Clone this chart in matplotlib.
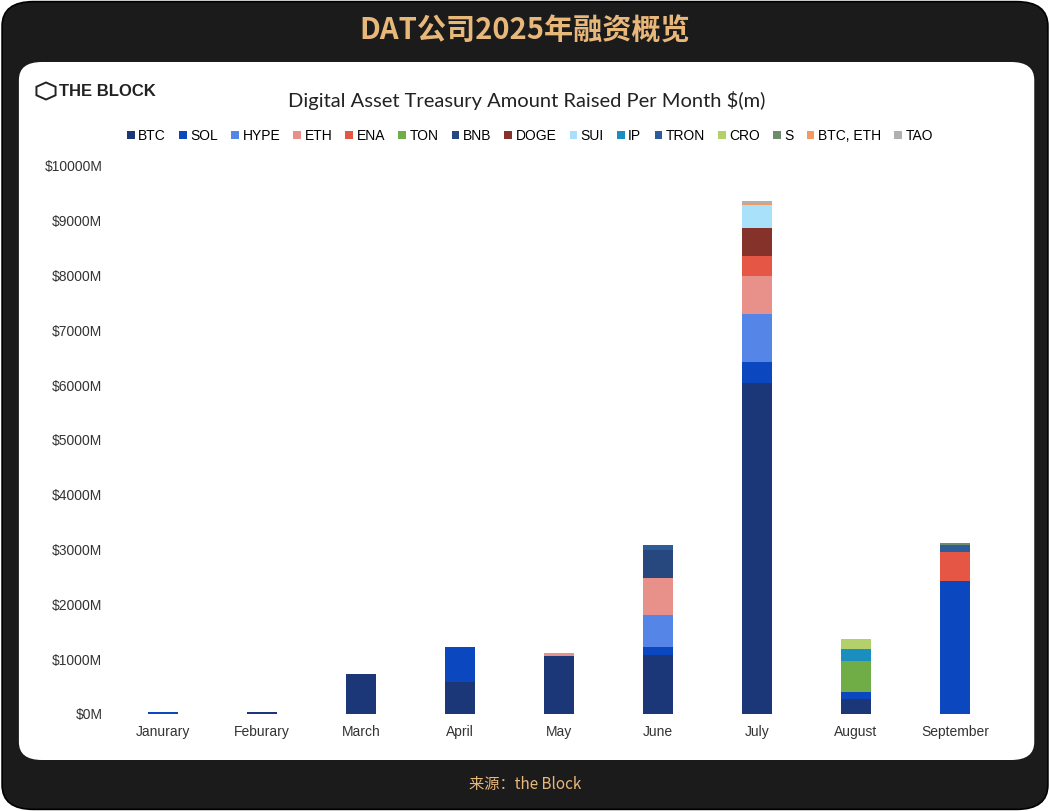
import numpy as np
import matplotlib.pyplot as plt
from matplotlib.patches import FancyBboxPatch, Patch, RegularPolygon

# Months and amounts raised ($m)
months = ["Janurary", "Feburary", "March", "April", "May", "June", "July", "August", "September"]

btc = [0, 40, 730, 578, 1058, 1077, 6040, 268, 0]
sol = [30, 0, 0, 640, 0, 140, 389, 128, 2432]
hype = [0, 0, 0, 0, 0, 595, 870, 0, 0]
eth = [0, 0, 0, 0, 50, 675, 699, 0, 0]
ena = [0, 0, 0, 0, 0, 0, 360, 0, 529]
ton = [0, 0, 0, 0, 0, 0, 0, 566, 0]
bnb = [0, 0, 0, 0, 0, 506, 0, 0, 0]
doge = [0, 0, 0, 0, 0, 0, 516, 0, 0]
sui = [0, 0, 0, 0, 0, 0, 420, 0, 0]
ip = [0, 0, 0, 0, 0, 0, 0, 219, 0]
tron = [0, 0, 0, 0, 0, 97, 0, 0, 122]
cro = [0, 0, 0, 0, 0, 0, 0, 188, 0]
s_tok = [0, 0, 0, 0, 0, 0, 0, 0, 42]
btc_eth = [0, 0, 0, 0, 0, 0, 30, 0, 0]
tao = [0, 0, 0, 0, 0, 0, 30, 0, 0]

series = [
    ("BTC", btc, "#1b3778"),
    ("SOL", sol, "#0b47bf"),
    ("HYPE", hype, "#5585e6"),
    ("ETH", eth, "#e8908a"),
    ("ENA", ena, "#e55645"),
    ("TON", ton, "#70ad47"),
    ("BNB", bnb, "#27487e"),
    ("DOGE", doge, "#84322a"),
    ("SUI", sui, "#a9e0fa"),
    ("IP", ip, "#1a8fbf"),
    ("TRON", tron, "#2c5c9a"),
    ("CRO", cro, "#b4d06a"),
    ("S", s_tok, "#6e8b6e"),
    ("BTC, ETH", btc_eth, "#f39a5e"),
    ("TAO", tao, "#b0b0b0"),
]

gold = "#e8b77a"

fig = plt.figure(figsize=(10.5, 8.11), dpi=100)
fig.patch.set_facecolor("white")

# dark outer card and white inner panel
fig.patches.append(FancyBboxPatch((0.002, 0.002), 0.996, 0.996,
                                  boxstyle="round,pad=0,rounding_size=0.03",
                                  transform=fig.transFigure, facecolor="#1b1b1b",
                                  edgecolor="black", linewidth=1.2, zorder=0))
fig.patches.append(FancyBboxPatch((0.018, 1 - 760 / 811), 0.967, (760 - 62) / 811,
                                  boxstyle="round,pad=0,rounding_size=0.022",
                                  transform=fig.transFigure, facecolor="white",
                                  edgecolor="none", zorder=0))

fig.text(0.5, 1 - 31 / 811, "DAT公司2025年融资概览", ha="center", va="center",
         fontsize=21, fontweight="bold", color=gold,
         family=["Noto Sans CJK SC", "DejaVu Sans"])
fig.text(0.5, 1 - 785 / 811, "来源：the Block", ha="center", va="center",
         fontsize=11, color=gold, family=["Noto Sans CJK SC", "DejaVu Sans"])

# logo
fig.patches.append(RegularPolygon((46 / 1050, 1 - 91 / 811), numVertices=6, radius=0.0105,
                                  orientation=0, transform=fig.transFigure,
                                  facecolor="none", edgecolor="#222222", linewidth=1.4))
fig.text(59 / 1050, 1 - 91 / 811, "THE BLOCK", ha="left", va="center",
         fontsize=12, fontweight="bold", color="#222222", family="Liberation Sans")

fig.text(527 / 1050, 1 - 101 / 811, "Digital Asset Treasury Amount Raised Per Month $(m)",
         ha="center", va="center", fontsize=14.5, color="#222222", family="Lato")

ax = fig.add_axes([113.5 / 1050, 1 - 714 / 811, (1004.5 - 113.5) / 1050, (714 - 166) / 811])
ax.set_zorder(3)
x = np.arange(len(months))
bottom = np.zeros(len(months))
handles = []
for name, vals, col in series:
    vals = np.array(vals, dtype=float)
    ax.bar(x, vals, width=0.31, bottom=bottom, color=col, linewidth=0, zorder=2)
    bottom += vals
    handles.append(Patch(facecolor=col, label=name))

ax.set_xlim(-0.5, len(months) - 0.5)
ax.set_ylim(0, 10000)
ax.set_yticks(np.arange(0, 10001, 1000))
ax.set_yticklabels([f"${v}M" for v in range(0, 10001, 1000)])
ax.set_xticks(x)
ax.set_xticklabels(months)
for lab in ax.get_xticklabels() + ax.get_yticklabels():
    lab.set_family("Liberation Sans")
    lab.set_fontsize(10)
    lab.set_color("#333333")
ax.tick_params(length=0, pad=8)
for sp in ax.spines.values():
    sp.set_visible(False)
ax.set_facecolor("none")

leg = fig.legend(handles=handles, loc="center", bbox_to_anchor=(530 / 1050, 1 - 136 / 811),
                 ncol=len(handles), frameon=False, handlelength=0.55, handleheight=0.55,
                 handletextpad=0.25, columnspacing=0.95,
                 prop={"family": "Liberation Sans", "size": 10})
leg.set_zorder(3)

fig.savefig("out.png", dpi=100)
